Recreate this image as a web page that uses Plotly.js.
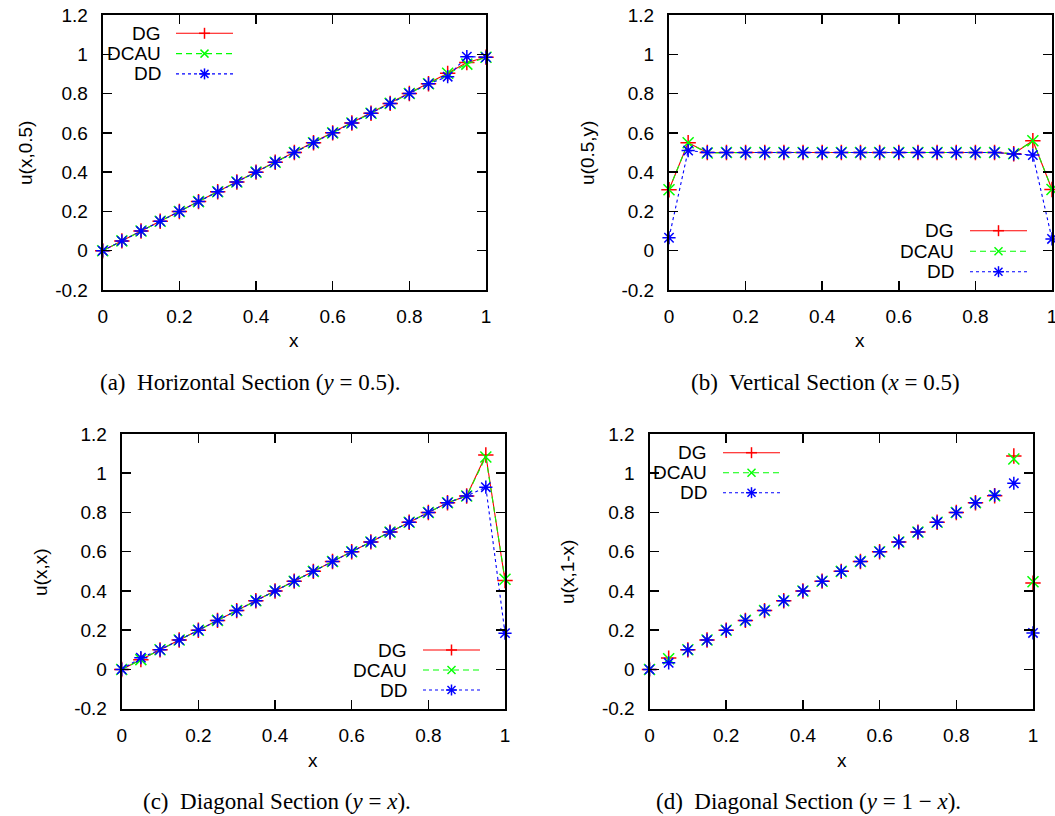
<!DOCTYPE html>
<html>
<head>
<meta charset="utf-8">
<script src="https://cdn.plot.ly/plotly-3.0.1.min.js"></script>
<style>html,body{margin:0;padding:0;background:#fff;}#chart{width:1055px;height:816px;}</style>
</head>
<body>
<div id="chart"></div>
<script>
// ---------- data ----------
const xs = [0,0.05,0.1,0.15,0.2,0.25,0.3,0.35,0.4,0.45,0.5,0.55,0.6,0.65,0.7,0.75,0.8,0.85,0.9,0.95,1];

// (a) horizontal section y = 0.5
const dgA   = [0,0.05,0.1,0.15,0.2,0.25,0.3,0.35,0.4,0.45,0.5,0.55,0.6,0.65,0.7,0.75,0.8,0.85,0.903,0.958,0.985];
const dcauA = [0,0.05,0.1,0.15,0.2,0.25,0.3,0.35,0.4,0.45,0.5,0.55,0.6,0.65,0.7,0.75,0.8,0.85,0.903,0.95,0.985];
const ddA   = [0,0.05,0.1,0.15,0.2,0.25,0.3,0.35,0.4,0.45,0.5,0.55,0.6,0.65,0.7,0.75,0.8,0.85,0.886,0.988,0.985];

// (b) vertical section x = 0.5
const dgB   = [0.31,0.55,0.5,0.5,0.5,0.5,0.5,0.5,0.5,0.5,0.5,0.5,0.5,0.5,0.5,0.5,0.5,0.5,0.494,0.56,0.312];
const dcauB = [0.31,0.55,0.497,0.5,0.5,0.5,0.5,0.5,0.5,0.5,0.5,0.5,0.5,0.5,0.5,0.5,0.5,0.5,0.494,0.56,0.312];
const ddB   = [0.066,0.51,0.5,0.5,0.5,0.5,0.5,0.5,0.5,0.5,0.5,0.5,0.5,0.5,0.5,0.5,0.5,0.5,0.493,0.487,0.06];

// (c) diagonal section y = x
const dgC   = [0,0.05,0.1,0.15,0.2,0.25,0.3,0.35,0.4,0.45,0.5,0.55,0.6,0.65,0.7,0.75,0.8,0.85,0.884,1.093,0.453];
const dcauC = [0,0.05,0.1,0.15,0.2,0.25,0.3,0.35,0.4,0.45,0.5,0.55,0.6,0.65,0.7,0.75,0.8,0.85,0.884,1.083,0.46];
const ddC   = [0,0.06,0.1,0.15,0.2,0.25,0.3,0.35,0.4,0.45,0.5,0.55,0.6,0.65,0.7,0.75,0.8,0.85,0.884,0.929,0.185];

// (d) diagonal section y = 1 - x
const dgD   = [0,0.058,0.1,0.15,0.2,0.25,0.3,0.35,0.4,0.45,0.5,0.55,0.6,0.65,0.7,0.75,0.8,0.85,0.885,1.088,0.44];
const dcauD = [0,0.055,0.1,0.15,0.2,0.25,0.3,0.35,0.4,0.45,0.5,0.55,0.6,0.65,0.7,0.75,0.8,0.85,0.885,1.073,0.447];
const ddD   = [0,0.034,0.1,0.15,0.2,0.25,0.3,0.35,0.4,0.45,0.5,0.55,0.6,0.65,0.7,0.75,0.8,0.85,0.888,0.949,0.186];

const seriesNames = ['DG','DCAU','DD'];
const yTickVals = [-0.2,0,0.2,0.4,0.6,0.8,1,1.2];
const yTickText = ['-0.2','0','0.2','0.4','0.6','0.8','1','1.2'];
const xTickVals = [0,0.2,0.4,0.6,0.8,1];
const xTickText = ['0','0.2','0.4','0.6','0.8','1'];
const yTitles = ['u(x,0.5)','u(0.5,y)','u(x,x)','u(x,1-x)'];
const captions = [
  '(a)  Horizontal Section (<i>y</i> = 0.5).',
  '(b)  Vertical Section (<i>x</i> = 0.5)',
  '(c)  Diagonal Section (<i>y</i> = <i>x</i>).',
  '(d)  Diagonal Section (<i>y</i> = 1 − <i>x</i>).'
];

// ---------- styling ----------
const W = 1055, H = 816;
const px = v => v / W;
const py = v => 1 - v / H;
const colors = ['#ff0000','#00ff00','#0000ff'];
const dashes = ['solid','6px,4px','3px,3px'];
const symbols = ['cross-thin-open','x-thin-open','asterisk-open'];
const FONT = 'Liberation Sans, Arial, sans-serif';
const FS = 19;

// panel boxes in pixels: [left,right,top,bottom]
const boxes = [
  [102.7, 486, 15, 290],
  [669, 1052, 15, 290],
  [121.7, 505, 434, 708.7],
  [649.5, 1033, 434, 708.7]
];
const panelData = [
  [dgA, dcauA, ddA],
  [dgB, dcauB, ddB],
  [dgC, dcauC, ddC],
  [dgD, dcauD, ddD]
];
const panelMode = ['lines+markers','lines+markers','lines+markers','markers'];

const traces = [];
panelData.forEach((series, p) => {
  const sfx = p === 0 ? '' : String(p + 1);
  series.forEach((ys, s) => {
    traces.push({
      x: xs, y: ys, name: seriesNames[s],
      xaxis: 'x' + sfx, yaxis: 'y' + sfx,
      type: 'scatter', mode: panelMode[p],
      cliponaxis: false, showlegend: false,
      line: {color: colors[s], width: 1.1, dash: dashes[s]},
      marker: {symbol: symbols[s], size: 11, color: colors[s], line: {color: colors[s], width: 1.5}}
    });
  });
});

const layout = {
  width: W, height: H,
  margin: {l: 0, r: 0, t: 0, b: 0},
  paper_bgcolor: '#fff', plot_bgcolor: '#fff',
  showlegend: false,
  font: {family: FONT, size: FS, color: '#000'},
  annotations: [], shapes: []
};

boxes.forEach((b, p) => {
  const sfx = p === 0 ? '' : String(p + 1);
  const common = {
    ticks: 'inside', ticklen: 9, tickwidth: 1.5, tickcolor: '#000',
    showline: true, linewidth: 2, linecolor: '#000', mirror: 'ticks',
    showgrid: false, zeroline: false, fixedrange: true,
    ticklabeloverflow: 'allow',
    tickfont: {family: FONT, size: FS, color: '#000'}
  };
  layout['xaxis' + sfx] = Object.assign({}, common, {
    domain: [px(b[0]), px(b[1])], range: [0, 1], anchor: 'y' + sfx,
    tickmode: 'array', tickvals: xTickVals, ticktext: xTickText, ticklabelstandoff: 8
  });
  layout['yaxis' + sfx] = Object.assign({}, common, {
    domain: [py(b[3]), py(b[2])], range: [-0.2, 1.2], anchor: 'x' + sfx,
    tickmode: 'array', tickvals: yTickVals, ticktext: yTickText, ticklabelstandoff: 9
  });
});

// axis titles
const yTitlePos = [[25,153],[587,153],[40,572],[567,572]];
const xTitlePos = [[294,340],[860,340],[313,760],[842,760]];
yTitles.forEach((t, p) => {
  layout.annotations.push({text: t, xref: 'paper', yref: 'paper', x: px(yTitlePos[p][0]), y: py(yTitlePos[p][1]),
    xanchor: 'center', yanchor: 'middle', textangle: -90, showarrow: false, font: {family: FONT, size: FS, color: '#000'}});
  layout.annotations.push({text: 'x', xref: 'paper', yref: 'paper', x: px(xTitlePos[p][0]), y: py(xTitlePos[p][1]),
    xanchor: 'center', yanchor: 'middle', showarrow: false, font: {family: FONT, size: FS, color: '#000'}});
});

// captions
const capPos = [[250,382],[825,382],[277,801],[808,801]];
captions.forEach((c, p) => {
  layout.annotations.push({text: c, xref: 'paper', yref: 'paper', x: px(capPos[p][0]), y: py(capPos[p][1]),
    xanchor: 'center', yanchor: 'middle', showarrow: false,
    font: {family: 'Liberation Serif, Times New Roman, serif', size: 23, color: '#000'}});
});

// gnuplot-style legends: [textRight, lineStart, lineEnd, row0, rowStep]
const legends = [
  [162.7, 176, 233, 33.3, 20.3],
  [956, 970, 1027, 230.7, 20.5],
  [409.3, 423, 480, 650, 20],
  [709.3, 723, 780, 452.7, 20]
];
const seg = (x0, y0, x1, y1, c, w, dash) => ({type: 'line', xref: 'paper', yref: 'paper',
  x0: px(x0), y0: py(y0), x1: px(x1), y1: py(y1), line: {color: c, width: w, dash: dash || 'solid'}});
legends.forEach(L => {
  seriesNames.forEach((n, s) => {
    const ry = L[3] + s * L[4];
    layout.annotations.push({text: n, xref: 'paper', yref: 'paper', x: px(L[0]), y: py(ry),
      xanchor: 'right', yanchor: 'middle', showarrow: false, font: {family: FONT, size: FS, color: '#000'}});
    layout.shapes.push(seg(L[1], ry, L[2], ry, colors[s], 1.1, dashes[s]));
    const mx = (L[1] + L[2]) / 2, r = 5.5, d = 4;
    if (s === 0 || s === 2) {
      layout.shapes.push(seg(mx - r, ry, mx + r, ry, colors[s], 1.5));
      layout.shapes.push(seg(mx, ry - r, mx, ry + r, colors[s], 1.5));
    }
    if (s === 1 || s === 2) {
      layout.shapes.push(seg(mx - d, ry - d, mx + d, ry + d, colors[s], 1.5));
      layout.shapes.push(seg(mx - d, ry + d, mx + d, ry - d, colors[s], 1.5));
    }
  });
});

Plotly.newPlot('chart', traces, layout, {staticPlot: true, displayModeBar: false});
</script>
</body>
</html>
